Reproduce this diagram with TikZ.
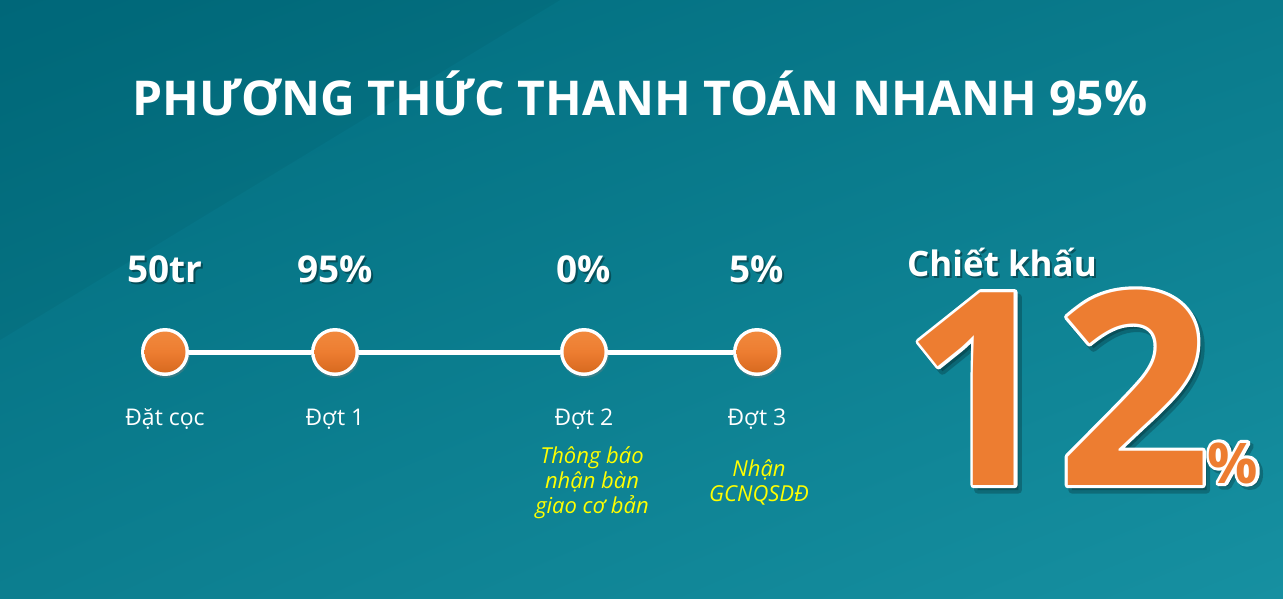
\documentclass[tikz,border=0pt]{standalone}
\usepackage{fontspec}
\setmainfont{Open Sans}
\usetikzlibrary{shadows,shadings}
\definecolor{bgA}{HTML}{006C7E}
\definecolor{bgB}{HTML}{0A7B8C}
\definecolor{bgC}{HTML}{0C7E8F}
\definecolor{bgD}{HTML}{1690A1}
\definecolor{orng}{HTML}{ED7D31}
\definecolor{orngL}{HTML}{F28B3F}
\definecolor{orngD}{HTML}{D4661C}
\definecolor{ylw}{HTML}{FFFF00}
\newcommand\strokedtext[1]{\special{pdf:literal direct 1 Tr 6.4 w 1 j 1 1 1 RG}#1\special{pdf:literal direct 0 Tr}}
\newcommand\shadowtext[1]{\special{pdf:literal direct 2 Tr 7 w 1 j 0 0 0 RG}#1\special{pdf:literal direct 0 Tr}}
\tikzset{
  title/.style={text=white,font=\fontsize{48}{58}\selectfont\bfseries,anchor=base,inner sep=0},
  num/.style={text=white,font=\fontsize{37}{44}\selectfont\bfseries,anchor=base,inner sep=0},
  numshadow/.style={text=black,opacity=0.35,font=\fontsize{37}{44}\selectfont\bfseries,anchor=base,inner sep=0},
  lbl/.style={text=white,font=\fontsize{23}{28}\selectfont,anchor=base,inner sep=0},
  note/.style={text=ylw,font=\fontsize{22}{25}\selectfont\itshape,align=center,anchor=north,inner sep=0},
  dot/.style={circle,minimum size=48,inner sep=0,fill=white,
    drop shadow={opacity=0.35,shadow xshift=1pt,shadow yshift=-2pt},
    path picture={\shade[top color=orngL,bottom color=orngD,middle color=orng]
      (path picture bounding box.center) circle (20.5);}},
  conn/.style={draw=white,line width=5},
  big/.style={font=\fontsize{270}{270}\selectfont\bfseries,anchor=base,inner sep=0},
  pct/.style={font=\fontsize{56}{56}\selectfont\bfseries,anchor=base,inner sep=0},
  ck/.style={font=\fontsize{35}{42}\selectfont\bfseries,anchor=base,inner sep=0},
}
\begin{document}
\begin{tikzpicture}[x=1pt,y=-1pt]
\useasboundingbox (0,0) rectangle (1283,598);
\shade[upper left=bgA,upper right=bgB,lower left=bgC,lower right=bgD] (0,0) rectangle (1283,598);
\fill[black,opacity=0.04] (0,0) -- (560,0) -- (0,340) -- cycle;

\node[title] (title) at (640,115) {PHƯƠNG THỨC THANH TOÁN NHANH 95\%};

% timeline dots
\node[dot] (c1) at (165,352) {};
\node[dot] (c2) at (335,352) {};
\node[dot] (c3) at (584,352) {};
\node[dot] (c4) at (757,352) {};
\draw[conn] (c1) -- (c2);
\draw[conn] (c2) -- (c3);
\draw[conn] (c3) -- (c4);

% amounts
\node[numshadow] (s1) at (167,284) {50tr};
\node[numshadow] (s2) at (337,284) {95\%};
\node[numshadow] (s3) at (586,284) {0\%};
\node[numshadow] (s4) at (759,284) {5\%};
\node[num] (n1) at (165,282) {50tr};
\node[num] (n2) at (335,282) {95\%};
\node[num] (n3) at (584,282) {0\%};
\node[num] (n4) at (757,282) {5\%};

% labels
\node[lbl] (l1) at (165,425) {Đặt cọc};
\node[lbl] (l2) at (335,425) {Đợt 1};
\node[lbl] (l3) at (584,425) {Đợt 2};
\node[lbl] (l4) at (757,425) {Đợt 3};

\node[note] (t3) at (592,446) {Thông báo\\nhận bàn\\giao cơ bản};
\node[note] (t4) at (759,459) {Nhận\\GCNQSDĐ};

% discount
\node[ck,text=black,opacity=0.35] (cks) at (1004,278) {Chiết khấu};
\node[ck,text=white] (ckt) at (1002,276) {Chiết khấu};

\node[big,text=black,opacity=0.22] (b12s) at (1061,490) {\shadowtext{12}};
\node[pct,text=black,opacity=0.22] (pcts) at (1236,486) {\shadowtext{\%}};
\node[big,text=white] (b12o) at (1057,485) {\strokedtext{12}};
\node[pct,text=white] (pcto) at (1233,483) {\strokedtext{\%}};
\node[big,text=orng] (b12) at (1057,485) {12};
\node[pct,text=orng] (pct) at (1233,483) {\%};
\end{tikzpicture}
\end{document}
